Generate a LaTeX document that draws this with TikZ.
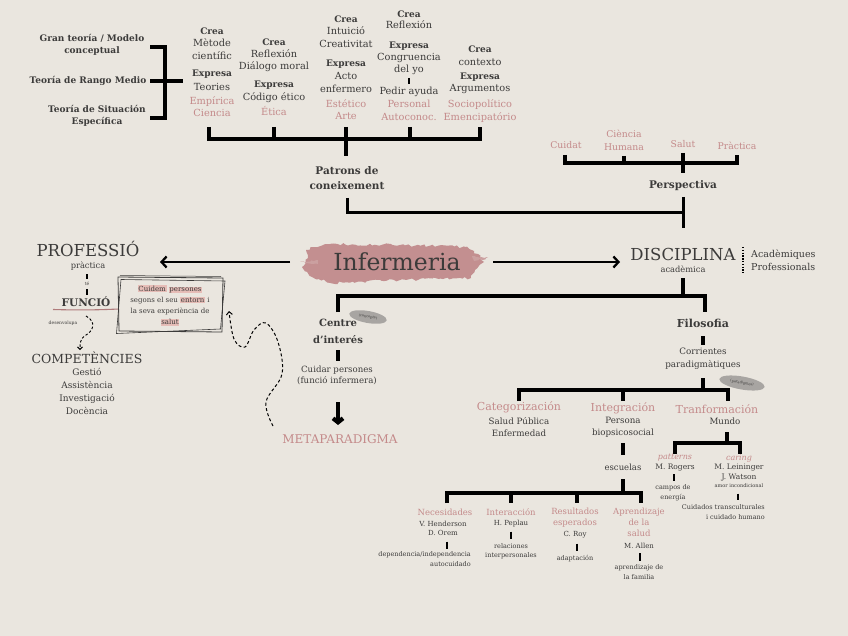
\documentclass[tikz,border=0pt]{standalone}
\usepackage{fontspec}
\setmainfont{DejaVu Serif}
\usetikzlibrary{arrows.meta,decorations.pathmorphing,shapes.geometric}
\definecolor{bg}{HTML}{EAE6DF}
\definecolor{ink}{HTML}{3C3B3A}
\definecolor{rose}{HTML}{C48A8A}
\definecolor{brush}{HTML}{C38F90}
\definecolor{hl}{HTML}{E6BDB7}
\definecolor{pill}{HTML}{A8A5A2}
\newcommand\hlt[1]{{\setlength{\fboxsep}{0.7pt}\colorbox{hl}{#1}}}
\begin{document}
\begin{tikzpicture}[x=1pt,y=-1pt,
  t/.style={inner sep=0pt,text=ink,align=center,font=\fontsize{9.8}{12.5}\selectfont},
  b/.style={t,font=\bfseries\fontsize{9}{12.5}\selectfont},
  p/.style={t,text=rose},
  s/.style={t,font=\fontsize{7.5}{10}\selectfont},
  ps/.style={t,text=rose,font=\fontsize{8.5}{10.8}\selectfont},
  xs/.style={t,font=\fontsize{6.5}{9.5}\selectfont},
  tiny/.style={t,font=\fontsize{4.5}{5}\selectfont},
  br/.style={draw=black,line width=3.3pt,line join=miter},
  bar/.style={draw=black,line width=3.6pt},
  pillnode/.style={fill=pill,ellipse,inner sep=0pt,minimum width=38pt,minimum height=12pt,text=ink,font=\fontsize{3.5}{4}\selectfont}]
\fill[bg] (0,0) rectangle (848,636);
\useasboundingbox (0,0) rectangle (848,636);

% ---------- top left theories
\node[b] (gt) at (92,45) {Gran teoría / Modelo\\conceptual};
\node[b] (rm) at (88,81) {Teoría de Rango Medio};
\node[b] (se) at (97,116) {Teoría de Situación\\Específica};
\coordinate (k1) at (150,47); \coordinate (k2) at (165,47);
\coordinate (k3) at (165,118); \coordinate (k4) at (150,118);
\coordinate (k5) at (150,81); \coordinate (k6) at (183,81);
\draw[br] (k1)--(k2)--(k3)--(k4);
\draw[br] (k5)--(k6);

% ---------- column 1
\node[b] (c1a) at (212,31) {Crea};
\node[t] (c1b) at (212,49) {Mètode\\científic};
\node[b] (c1c) at (212,74) {Expresa};
\node[t] (c1d) at (212,87) {Teories};
\node[p] (c1e) at (212,106.5) {Empírica\\Ciencia};
% ---------- column 2
\node[b] (c2a) at (274,42) {Crea};
\node[t] (c2b) at (274,60.5) {Reflexión\\Diálogo moral};
\node[b] (c2c) at (274,85) {Expresa};
\node[t] (c2d) at (274,98) {Código ético};
\node[p] (c2e) at (274,111) {Ética};
% ---------- column 3
\node[b] (c3a) at (346,19) {Crea};
\node[t] (c3b) at (346,37) {Intuició\\Creativitat};
\node[b] (c3c) at (346,64) {Expresa};
\node[t] (c3d) at (346,82.5) {Acto\\enfermero};
\node[p] (c3e) at (346,109.5) {Estético\\Arte};
% ---------- column 4
\node[b] (c4a) at (409,14) {Crea};
\node[t] (c4b) at (409,24.5) {Reflexión};
\node[b] (c4c) at (409,46) {Expresa};
\node[t] (c4d) at (409,64) {Congruencia\\del yo};
\node[t] (c4e) at (409,92) {Pedir ayuda};
\node[p] (c4f) at (409,110.5) {Personal\\Autoconoc.};
\coordinate (c4s) at (409,78); \coordinate (c4t) at (409,84.5);
\draw[black,line width=2.5pt] (c4s) -- (c4t);
% ---------- column 5
\node[b] (c5a) at (480,49) {Crea};
\node[t] (c5b) at (480,62) {contexto};
\node[b] (c5c) at (480,77) {Expresa};
\node[t] (c5d) at (480,89) {Argumentos};
\node[p] (c5e) at (480,111) {Sociopolítico\\Emencipatório};

% ---------- top bar
\coordinate (tb1) at (209,127); \coordinate (tb1b) at (209,139);
\coordinate (tb5) at (480,127); \coordinate (tb5b) at (480,139);
\coordinate (tb2) at (274,127); \coordinate (tb2b) at (274,139);
\coordinate (tb3) at (346,127); \coordinate (tb3b) at (346,156);
\coordinate (tb4) at (410,127); \coordinate (tb4b) at (410,139);
\draw[br] (tb1)--(tb1b)--(tb5b)--(tb5);
\draw[br] (tb2)--(tb2b); \draw[br] (tb3)--(tb3b); \draw[br] (tb4)--(tb4b);

\node[b,font=\bfseries\fontsize{10.5}{14.5}\selectfont] (pat) at (347,178) {Patrons de\\coneixement};

% ---------- perspectiva
\node[p,font=\fontsize{9.3}{12.5}\selectfont] (cui) at (566,145) {Cuidat};
\node[p,font=\fontsize{9.3}{12.5}\selectfont] (cih) at (624,140.5) {Ciència\\Humana};
\node[p,font=\fontsize{9.3}{12.5}\selectfont] (sal) at (683,144) {Salut};
\node[p,font=\fontsize{9.3}{12.5}\selectfont] (pra) at (737,146) {Pràctica};
\coordinate (r1) at (565,155); \coordinate (r1b) at (565,163);
\coordinate (r4) at (737,155); \coordinate (r4b) at (737,163);
\coordinate (r2) at (624,156); \coordinate (r2b) at (624,163);
\coordinate (r3) at (683,153); \coordinate (r3b) at (683,173);
\draw[br] (r1)--(r1b)--(r4b)--(r4);
\draw[br] (r2)--(r2b); \draw[br] (r3)--(r3b);
\node[b,font=\bfseries\fontsize{10.5}{12}\selectfont] (per) at (683,186) {Perspectiva};

\coordinate (pc1) at (347,198); \coordinate (pc2) at (347,213);
\coordinate (pc3) at (683,213); \coordinate (pc4) at (683,197); \coordinate (pc5) at (683,228);
\draw[br,line width=3pt] (pc1)--(pc2)--(pc3);
\draw[br,line width=3pt] (pc4)--(pc5);

% ---------- Infermeria
\fill[brush,decorate,decoration={random steps,segment length=3pt,amplitude=1.4pt}]
  (306,250)--(325,244)--(400,245)--(465,247)--(478,254)--(484,262)--(475,270)--(471,278)
  --(400,280)--(330,283)--(312,277)--(302,267)--(308,258)--cycle;
\fill[brush!80!bg,decorate,decoration={random steps,segment length=2pt,amplitude=1pt}]
  (300,262)--(318,260)--(318,264)--cycle;
\fill[brush!80!bg,decorate,decoration={random steps,segment length=2pt,amplitude=1pt}]
  (472,256)--(488,258)--(474,261)--cycle;
\node[t,font=\fontsize{23.5}{26}\selectfont] (inf) at (397,262) {Infermeria};
\coordinate (ia) at (290,262); \coordinate (ib) at (160,262);
\coordinate (ic) at (493,262); \coordinate (id) at (620,262);
\draw[line width=2.3pt,-{Straight Barb[length=5pt,width=11pt]}] (ia)--(ib);
\draw[line width=2.3pt,-{Straight Barb[length=5pt,width=11pt]}] (ic)--(id);

% ---------- left side
\node[t,font=\fontsize{16.5}{18}\selectfont] (prof) at (88,249) {PROFESSIÓ};
\node[t,font=\fontsize{8.3}{9}\selectfont] (prac) at (88,266.5) {pràctica};
\coordinate (d1) at (87,274); \coordinate (d2) at (87,279);
\coordinate (d3) at (87,289); \coordinate (d4) at (87,295);
\draw[line width=2pt] (d1)--(d2); \draw[line width=2pt] (d3)--(d4);
\node[tiny] (te) at (87,284) {té};
\node[b,font=\bfseries\fontsize{10.5}{12}\selectfont] (fun) at (86,302) {FUNCIÓ};
\coordinate (u1) at (53,309.5); \coordinate (u2) at (119,309);
\draw[rose!90!black,line width=1.1pt] (u1) to[bend right=2] (u2);
\node[tiny] (des) at (63,323) {desenvolupa};
\coordinate (w1) at (86,316); \coordinate (w2) at (80,350);
\draw[line width=0.9pt,dash pattern=on 2.5pt off 2pt,-{Straight Barb[length=2.5pt,width=5pt]}]
  (w1) .. controls (97,322) and (93,331) .. (86,335) .. controls (80,339) and (80,343) .. (w2);
\node[t,font=\fontsize{12.5}{14}\selectfont] (comp) at (87,358) {COMPETÈNCIES};
\node[t,font=\fontsize{9}{13}\selectfont] (cl) at (87,391.5) {Gestió\\Assistència\\Investigació\\Docència};

% ---------- sketch box
\coordinate (b1) at (118,277); \coordinate (b2) at (223,278);
\coordinate (b3) at (222,332); \coordinate (b4) at (119,331);
\draw[ink,line width=0.8pt] (b1)--(b2)--(b3)--(b4)--cycle;
\draw[ink,line width=0.6pt] (121,279.5)--(225,281)--(220.5,329)--(116.5,333.5)--cycle;
\draw[ink,line width=0.5pt] (120,275.5)--(221,276.5);
\node[t,font=\fontsize{7}{11.2}\selectfont] (box) at (170,305.5)
  {\hlt{Cuidem} \hlt{persones}\\segons el seu \hlt{entorn} i\\la seva experiència de\\\hlt{salut}};
\coordinate (sq0) at (273,426); \coordinate (sq1) at (229,311);
\draw[line width=1pt,dash pattern=on 3pt off 2.4pt,-{Straight Barb[length=3pt,width=6pt]}]
  plot[smooth,tension=0.6] coordinates {(sq0) (266,402) (282,374) (278,342) (266,323) (254,330) (245,347) (234,339) (sq1)};

% ---------- DISCIPLINA
\node[t,font=\fontsize{16.5}{18}\selectfont] (dis) at (683,254) {DISCIPLINA};
\node[t,font=\fontsize{8.3}{9}\selectfont] (aca) at (683,269.5) {acadèmica};
\coordinate (v1) at (743,247); \coordinate (v2) at (743,273);
\draw[line width=1.3pt,dash pattern=on 1.5pt off 1.3pt] (v1)--(v2);
\node[t,anchor=west,align=left,font=\fontsize{9.5}{13}\selectfont] (acp) at (751,260.5) {Acadèmiques\\Professionals};

\coordinate (e1) at (683,278); \coordinate (e2) at (683,296);
\coordinate (e3) at (338,312); \coordinate (e4) at (338,296);
\coordinate (e5) at (705,296); \coordinate (e6) at (705,312);
\draw[br] (e1)--(e2);
\draw[br] (e3)--(e4)--(e5)--(e6);

% ---------- Centre d'interés
\node[b,font=\bfseries\fontsize{10}{16.5}\selectfont] (cen) at (338,331.5) {Centre\\d’interés};
\node[pillnode,rotate=-10] (pill1) at (368,317) {(concepte)};
\coordinate (f1) at (338,350); \coordinate (f2) at (338,361);
\draw[bar] (f1)--(f2);
\node[t,font=\fontsize{8.6}{11}\selectfont] (cuid) at (337,375.5) {Cuidar persones\\(funció infermera)};
\coordinate (g1) at (338,402); \coordinate (g2) at (338,425);
\draw[line width=4.2pt,-{Straight Barb[length=4pt,width=10pt]}] (g1)--(g2);
\node[t,text=rose,font=\fontsize{12}{13}\selectfont] (meta) at (340,439) {METAPARADIGMA};

% ---------- Filosofia
\node[b,font=\bfseries\fontsize{11}{12}\selectfont] (fil) at (703,323) {Filosofia};
\coordinate (h1) at (703,336); \coordinate (h2) at (703,345);
\draw[bar] (h1)--(h2);
\node[t,font=\fontsize{8.8}{12.5}\selectfont] (cor) at (703,358.5) {Corrientes\\paradigmàtiques};
\node[pillnode,rotate=-10,minimum width=46pt,minimum height=13pt] (pill2) at (742,383) {(paradigmes)};
\coordinate (h3) at (703,378); \coordinate (h4) at (703,390);
\draw[br] (h3)--(h4);
\coordinate (j1) at (519,401); \coordinate (j1b) at (519,390);
\coordinate (j3) at (728,401); \coordinate (j3b) at (728,390);
\coordinate (j2) at (623,390); \coordinate (j2b) at (623,401);
\draw[br] (j1)--(j1b)--(j3b)--(j3);
\draw[br] (j2)--(j2b);

\node[t,text=rose,font=\fontsize{11}{12}\selectfont] (cat) at (519,407.5) {Categorización};
\node[t,font=\fontsize{8.7}{12}\selectfont] (catx) at (519,427) {Salud Pública\\Enfermedad};
\node[t,text=rose,font=\fontsize{11}{12}\selectfont] (intg) at (623,408) {Integración};
\node[t,font=\fontsize{8.7}{12}\selectfont] (intx) at (623,427) {Persona\\biopsicosocial};
\node[t,text=rose,font=\fontsize{11}{12}\selectfont] (tra) at (717,409) {Tranformación};
\node[t,font=\fontsize{8.7}{12}\selectfont] (mun) at (725,421) {Mundo};

% ---------- Transformación branch
\coordinate (m1) at (727,432); \coordinate (m2) at (727,443);
\coordinate (m3) at (675,454); \coordinate (m3b) at (675,443);
\coordinate (m4) at (740,454); \coordinate (m4b) at (740,443);
\draw[br] (m1)--(m2);
\draw[br] (m3)--(m3b)--(m4b)--(m4);
\node[t,text=rose,font=\itshape\fontsize{8}{9}\selectfont] (pat2) at (675,458) {patterns};
\node[s] (rog) at (675,468) {M. Rogers};
\coordinate (n1) at (674,474); \coordinate (n2) at (674,481);
\draw[line width=2.5pt] (n1)--(n2);
\node[xs] (cam) at (673,492.5) {campos de\\energía};
\node[t,text=rose,font=\itshape\fontsize{8}{9}\selectfont] (car) at (739,458) {caring};
\node[s] (lei) at (739,468) {M. Leininger};
\node[s] (wat) at (739,478) {J. Watson};
\node[t,font=\fontsize{5}{6}\selectfont] (amor) at (739,486) {amor incondicional};
\coordinate (n3) at (738,493.5); \coordinate (n4) at (738,500);
\draw[line width=2.5pt] (n3)--(n4);
\node[xs,anchor=east,align=right] (cult) at (765,512) {Cuidados transculturales\\i cuidado humano};

% ---------- Integración branch
\coordinate (q1) at (623,443); \coordinate (q2) at (623,455);
\draw[bar] (q1)--(q2);
\node[t,font=\fontsize{8.5}{10}\selectfont] (esc) at (623,467) {escuelas};
\coordinate (q3) at (623,479); \coordinate (q4) at (623,493);
\draw[br] (q3)--(q4);
\coordinate (o1) at (447,503); \coordinate (o1b) at (447,493);
\coordinate (o4) at (641,503); \coordinate (o4b) at (641,493);
\coordinate (o2) at (511,493); \coordinate (o2b) at (511,503);
\coordinate (o3) at (577,493); \coordinate (o3b) at (577,503);
\draw[br] (o1)--(o1b)--(o4b)--(o4);
\draw[br] (o2)--(o2b); \draw[br] (o3)--(o3b);

% Necesidades
\node[ps] (nec) at (445,512) {Necesidades};
\node[s,font=\fontsize{7}{9.5}\selectfont] (hen) at (443,528.5) {V. Henderson\\D. Orem};
\coordinate (x1) at (447,541.5); \coordinate (x2) at (447,549);
\draw[line width=2.5pt] (x1)--(x2);
\node[xs,anchor=east,align=right] (dep) at (471,559) {dependencia/independencia\\autocuidado};
% Interacción
\node[ps] (inte) at (511,512) {Interacción};
\node[s,font=\fontsize{7}{9.5}\selectfont] (pep) at (511,523.5) {H. Peplau};
\coordinate (x3) at (511,531.5); \coordinate (x4) at (511,539);
\draw[line width=2.5pt] (x3)--(x4);
\node[xs] (rel) at (511,551) {relaciones\\interpersonales};
% Resultados
\node[ps] (res) at (575,517.5) {Resultados\\esperados};
\node[s,font=\fontsize{7}{9.5}\selectfont] (roy) at (575,535) {C. Roy};
\coordinate (x5) at (577,543.5); \coordinate (x6) at (577,551);
\draw[line width=2.5pt] (x5)--(x6);
\node[xs] (ada) at (575,559) {adaptación};
% Aprendizaje
\node[ps] (apr) at (639,522.5) {Aprendizaje\\de la\\salud};
\node[s,font=\fontsize{7}{9.5}\selectfont] (all) at (639,546) {M. Allen};
\coordinate (x7) at (640,553); \coordinate (x8) at (640,561);
\draw[line width=2.5pt] (x7)--(x8);
\node[xs] (fam) at (639,572) {aprendizaje de\\la familia};
\end{tikzpicture}
\end{document}
